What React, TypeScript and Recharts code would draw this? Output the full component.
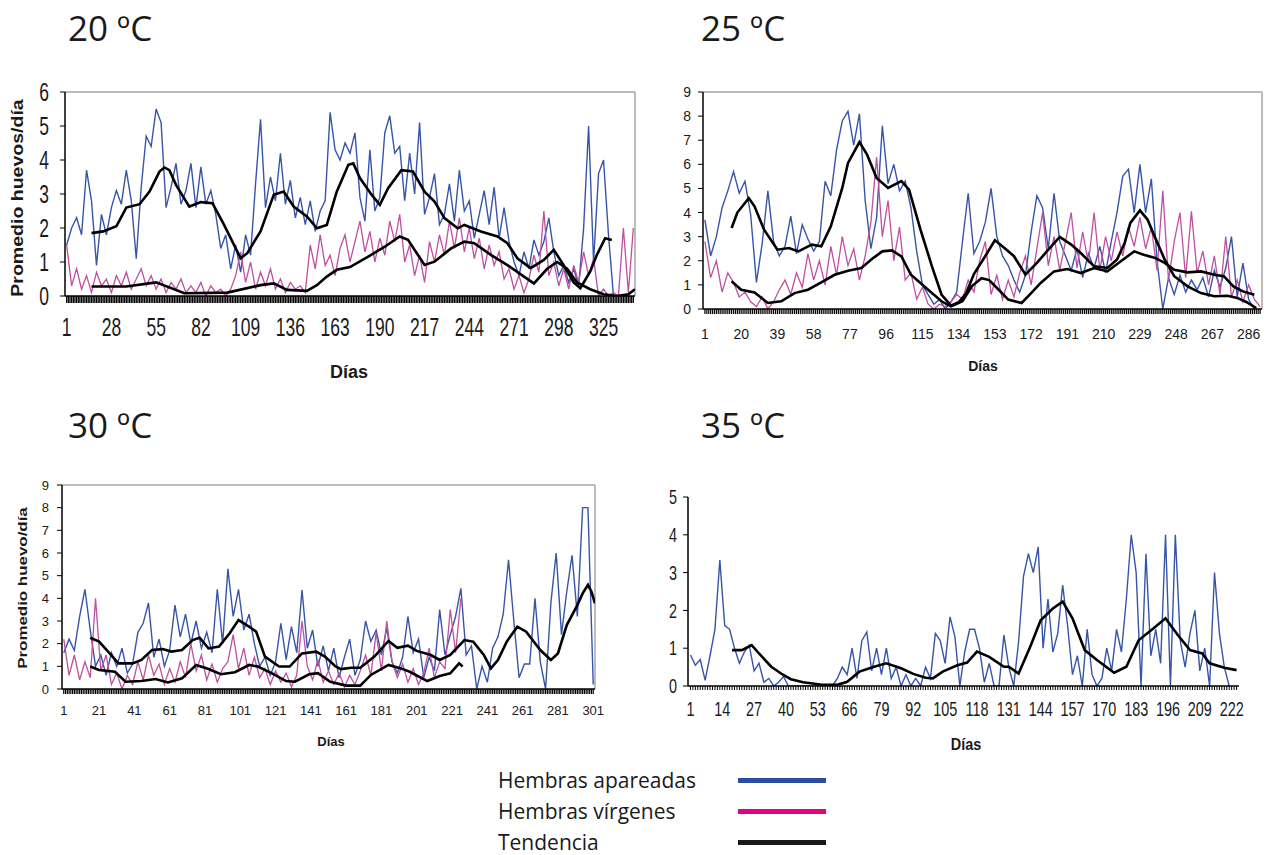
import React from 'react';
import { LineChart, Line, XAxis, YAxis, ReferenceLine } from 'recharts';

const BLUE = '#3755a8';
const PINK = '#bf4fa0';
const TICK_FONT = "'Liberation Sans', Arial, sans-serif";
const TITLE_FONT = "'Open Sans', 'Noto Sans', sans-serif";

// 20 ºC — daily values sampled every 3 days from day 1
const apareadas20 = [
  1.5, 2.0, 2.3, 1.8, 3.7, 2.8, 0.9, 2.4, 1.8, 2.6, 3.1, 2.7, 3.7, 2.8, 1.1, 3.2, 4.7, 4.4, 5.5, 5.1,
  2.6, 3.2, 3.9, 2.7, 3.1, 3.9, 2.6, 3.8, 2.7, 3.1, 2.4, 1.4, 1.8, 0.8, 1.5, 0.7, 1.8, 1.2, 3.3, 5.2,
  2.6, 3.5, 2.8, 4.2, 2.7, 3.4, 2.3, 2.9, 2.1, 2.8, 1.9, 2.5, 2.8, 5.4, 4.3, 4.0, 4.5, 4.2, 4.8, 2.9,
  2.2, 4.3, 2.5, 2.9, 4.8, 5.3, 4.2, 4.4, 2.8, 4.2, 3.0, 5.1, 2.4, 2.9, 3.6, 2.1, 2.4, 3.3, 2.2, 3.7,
  2.5, 2.8, 1.7, 2.4, 3.1, 2.1, 3.2, 1.7, 2.6, 1.6, 1.0, 0.6, 1.3, 0.8, 1.65, 1.2, 1.6, 2.3, 1.3, 0.6,
  0.9, 0.4, 0.8, 0.3, 2.0, 5.0, 1.0, 3.6, 4.0, 1.8, 0,
];
const virgenes20 = [
  1.5, 0.3, 0.8, 0.2, 0.6, 0.1, 0.7, 0.3, 0.5, 0.1, 0.6, 0.3, 0.7, 0.2, 0.5, 0.8, 0.3, 0.6, 0.2, 0.5,
  0.1, 0.4, 0.2, 0.5, 0.1, 0.3, 0.1, 0.4, 0.0, 0.3, 0.1, 0.2, 0.0, 0.2, 0.6, 1.3, 0.4, 1.0, 0.2, 0.7,
  0.3, 0.8, 0.2, 0.5, 0.1, 0.4, 0.2, 0.3, 0.1, 1.5, 0.8, 1.8, 0.9, 1.2, 0.6, 1.4, 1.8, 1.0, 1.6, 2.2,
  1.3, 1.9, 1.0, 1.7, 1.2, 2.2, 1.6, 2.4, 1.0, 1.5, 0.6, 1.2, 0.4, 1.6, 1.0, 1.8, 1.2, 2.2, 1.4, 2.3,
  1.3, 2.0, 1.1, 1.7, 0.8, 1.5, 0.9, 1.3, 0.5, 0.8, 0.2, 0.6, 0.1, 0.5, 1.2, 0.7, 2.5, 0.6, 1.0, 0.3,
  0.8, 0.2, 0.9, 0.4, 1.3, 0.6, 1.1, 0.0, 0.2, 0.0, 0.1, 0.0, 2.0, 0.1, 2.0,
];
const tendApareadas20 = [
  [16, 1.85], [23, 1.9], [31, 2.05], [37, 2.6], [45, 2.7], [51, 3.07], [57, 3.66], [60, 3.78], [63, 3.7],
  [67, 3.27], [75, 2.63], [82, 2.76], [89, 2.73], [96, 2.09], [106, 1.11], [110, 1.26], [118, 1.9],
  [126, 2.98], [132, 3.07], [138, 2.63], [146, 2.34], [152, 1.99], [158, 2.09], [164, 3.07], [171, 3.86],
  [174, 3.9], [178, 3.47], [185, 2.98], [190, 2.68], [195, 3.17], [203, 3.7], [210, 3.66], [217, 3.07],
  [223, 2.78], [229, 2.29], [237, 1.99], [241, 2.09], [251, 1.9], [261, 1.75], [267, 1.55], [273, 1.11],
  [281, 0.82], [289, 1.06], [295, 1.36], [301, 0.9], [307, 0.4], [311, 0.23], [317, 0.72], [321, 1.21],
  [326, 1.7], [330, 1.65],
];
const tendVirgenes20 = [
  [16, 0.28], [37, 0.28], [55, 0.4], [72, 0.08], [98, 0.1], [118, 0.32], [126, 0.37], [134, 0.18],
  [146, 0.15], [152, 0.32], [158, 0.57], [164, 0.77], [172, 0.85], [183, 1.16], [193, 1.45], [202, 1.75],
  [207, 1.65], [217, 0.91], [223, 1.01], [233, 1.4], [241, 1.6], [247, 1.55], [257, 1.21], [267, 0.91],
  [277, 0.57], [283, 0.37], [291, 0.8], [297, 1.0], [303, 0.8], [309, 0.4], [317, 0.2], [325, 0.05],
  [333, 0.0], [340, 0.05], [344, 0.2],
];

// 25 ºC — every 3 days from day 1
const apareadas25 = [
  3.7, 2.2, 3.0, 4.2, 4.9, 5.7, 4.8, 5.3, 3.9, 1.1, 2.7, 4.9, 2.8, 2.2, 2.6, 3.85, 2.3, 3.5, 2.9, 2.4,
  2.8, 5.3, 4.7, 6.6, 7.8, 8.2, 6.8, 8.1, 4.5, 2.5, 3.8, 7.6, 5.2, 6.0, 4.9, 5.3, 4.2, 2.4, 1.0, 0.6,
  0.2, 0.4, 0.0, 0.3, 0.7, 2.8, 4.8, 2.3, 2.8, 3.6, 5.0, 3.0, 2.2, 1.8, 1.2, 0.7, 1.4, 3.2, 4.7, 4.2,
  2.5, 4.8, 2.8, 2.2, 1.6, 2.5, 1.3, 2.3, 1.7, 2.6, 1.5, 2.8, 4.0, 5.5, 5.8, 4.0, 6.0, 4.0, 5.4, 2.0,
  0.0, 1.3, 0.6, 1.4, 0.7, 1.2, 0.8, 1.3, 0.5, 1.6, 0.9, 1.7, 3.0, 0.5, 1.9, 0.4, 0.0,
];
const virgenes25 = [
  2.8, 1.3, 2.0, 0.7, 1.5, 1.1, 0.5, 0.7, 0.3, 0.1, 0.5, 0.0, 0.3, 0.8, 1.2, 0.6, 1.5, 0.9, 2.3, 1.2,
  2.0, 1.0, 2.6, 1.4, 3.0, 1.8, 2.5, 1.2, 2.2, 3.6, 6.3, 3.0, 4.5, 2.0, 3.4, 1.2, 1.5, 0.4, 0.9, 0.2,
  0.0, 0.2, 0.1, 0.3, 0.6, 0.4, 1.2, 0.7, 2.0, 2.8, 0.6, 1.4, 0.4, 1.2, 0.5, 1.5, 2.2, 1.0, 2.5, 4.0,
  1.8, 3.0, 1.6, 2.8, 4.0, 1.7, 3.2, 1.9, 4.0, 1.6, 3.0, 2.0, 3.2, 2.2, 3.4, 2.6, 3.8, 2.5, 3.4, 1.6,
  4.9, 1.2, 2.8, 4.0, 1.3, 4.05, 1.5, 2.4, 1.0, 2.2, 0.6, 3.0, 0.5, 1.2, 0.3, 1.0, 0.4, 0.1,
];
const tendApareadas25 = [
  [15, 3.36], [18, 4.0], [24, 4.6], [27, 4.26], [32, 3.29], [39, 2.46], [45, 2.53], [50, 2.39], [57, 2.67],
  [62, 2.6], [67, 3.43], [73, 5.02], [76, 6.06], [82, 6.92], [86, 6.4], [91, 5.43], [97, 5.02], [104, 5.3],
  [108, 4.95], [114, 3.29], [120, 1.77], [125, 0.6], [130, 0.14], [134, 0.28], [138, 0.66], [142, 1.45],
  [148, 2.2], [153, 2.85], [158, 2.53], [163, 2.19], [169, 1.42], [175, 1.91], [181, 2.46], [187, 2.99],
  [193, 2.67], [198, 2.32], [205, 1.77], [212, 1.7], [217, 2.05], [221, 2.74], [224, 3.57], [229, 4.09],
  [233, 3.71], [237, 2.95], [242, 2.05], [247, 1.36], [254, 0.94], [261, 0.66], [268, 0.53], [275, 0.55],
  [280, 0.46], [285, 0.28], [290, 0.04],
];
const tendVirgenes25 = [
  [15, 1.15], [20, 0.8], [27, 0.69], [34, 0.25], [41, 0.32], [48, 0.66], [55, 0.8], [62, 1.1], [69, 1.42],
  [76, 1.59], [83, 1.7], [89, 2.1], [94, 2.39], [99, 2.43], [104, 2.18], [109, 1.42], [118, 0.8],
  [125, 0.32], [130, 0.11], [136, 0.32], [141, 0.95], [146, 1.28], [150, 1.2], [155, 0.8], [160, 0.39],
  [167, 0.25], [172, 0.66], [177, 1.08], [184, 1.56], [191, 1.66], [198, 1.49], [205, 1.7], [212, 1.56],
  [219, 1.98], [226, 2.39], [231, 2.25], [237, 2.12], [242, 1.91], [247, 1.63], [254, 1.52], [261, 1.56],
  [268, 1.42], [273, 1.36], [278, 0.94], [283, 0.73], [289, 0.59],
];

// 30 ºC — every 3 days from day 1
const apareadas30 = [
  1.6, 2.2, 1.7, 3.2, 4.4, 2.6, 1.0, 1.5, 0.6, 1.6, 1.0, 1.8, 0.7, 1.1, 2.5, 2.9, 3.8, 1.4, 2.2, 1.0,
  1.7, 3.7, 2.3, 3.3, 2.0, 3.0, 1.8, 2.5, 1.6, 4.4, 2.0, 5.3, 3.2, 4.4, 2.6, 3.3, 2.0, 1.0, 1.4, 0.6,
  1.2, 2.9, 1.3, 2.75, 1.6, 4.37, 1.8, 2.6, 1.0, 1.9, 0.8, 1.8, 0.5, 1.4, 2.2, 0.6, 1.3, 3.0, 2.1, 2.6,
  1.5, 2.7, 1.2, 0.7, 1.4, 3.2, 1.6, 2.2, 0.5, 1.4, 0.8, 3.5, 1.5, 2.4, 3.2, 4.44, 1.5, 1.9, 0.0, 1.0,
  0.3, 1.8, 2.3, 3.3, 5.7, 3.0, 0.5, 1.1, 1.1, 4.0, 1.2, 0.0, 3.8, 6.0, 2.4, 4.3, 5.9, 3.2, 8.0, 8.0,
  0.2,
];
const virgenes30 = [
  2.2, 0.6, 1.5, 0.4, 1.2, 0.5, 4.0, 0.8, 1.5, 0.2, 0.7, 0.0, 0.6, 0.2, 1.2, 0.4, 1.5, 0.6, 1.1, 0.2,
  0.9, 0.3, 1.2, 0.5, 2.0, 0.8, 1.5, 0.4, 1.1, 0.3, 0.9, 1.2, 2.4, 0.9, 1.8, 0.6, 1.4, 0.5, 0.9, 0.2,
  0.8, 0.3, 0.7, 0.1, 0.6, 3.0, 1.0, 0.4, 1.3, 0.3, 0.8, 0.2, 0.7, 0.1, 0.6, 0.2, 0.8, 1.5, 0.6, 2.5,
  0.8, 3.0, 1.2, 0.5, 1.1, 0.3, 0.9, 0.2, 0.7, 1.8, 0.5, 1.2, 0.9, 3.5, 1.6, 4.0,
];
const tendApareadas30 = [
  [16, 2.26], [21, 2.09], [27, 1.57], [32, 1.13], [40, 1.13], [45, 1.28], [51, 1.72], [57, 1.76], [62, 1.65],
  [68, 1.72], [74, 2.16], [78, 2.26], [83, 1.79], [89, 1.87], [95, 2.46], [100, 3.04], [106, 2.75],
  [110, 2.53], [115, 1.43], [123, 0.99], [129, 0.99], [136, 1.57], [144, 1.65], [149, 1.43], [155, 1.0],
  [158, 0.88], [164, 0.94], [169, 0.94], [177, 1.43], [185, 2.12], [190, 1.82], [196, 1.91], [201, 1.68],
  [209, 1.5], [214, 1.28], [220, 1.5], [228, 2.16], [233, 2.09], [239, 1.5], [243, 0.91], [247, 1.28],
  [252, 2.09], [258, 2.75], [263, 2.53], [271, 1.72], [277, 1.28], [281, 1.57], [286, 2.82], [292, 3.7],
  [295, 4.22], [298, 4.59], [300, 4.29], [302, 3.78],
];
const tendVirgenes30 = [
  [16, 0.99], [21, 0.84], [30, 0.76], [36, 0.32], [45, 0.35], [53, 0.44], [60, 0.29], [68, 0.47], [76, 1.06],
  [83, 0.88], [90, 0.65], [98, 0.74], [106, 1.06], [111, 0.99], [119, 0.69], [127, 0.35], [132, 0.32],
  [140, 0.65], [145, 0.7], [152, 0.32], [161, 0.15], [169, 0.15], [175, 0.62], [185, 1.06], [192, 0.91],
  [197, 0.76], [207, 0.35], [214, 0.57], [220, 0.69], [225, 1.13], [227, 0.99],
];

// 35 ºC — every 2 days from day 1
const apareadas35 = [
  0.82, 0.55, 0.7, 0.15, 0.8, 1.5, 3.33, 1.6, 1.5, 1.0, 0.6, 0.9, 1.08, 0.4, 0.6, 0.1, 0.2, 0.0, 0.1, 0.25,
  0.0, 0, 0, 0, 0, 0, 0, 0, 0, 0, 0.2, 0.5, 0.3, 1.0, 0.2, 1.2, 1.43, 0.4, 1.0, 0.3,
  1.0, 0.2, 0.5, 0.0, 0.3, 0.0, 0.2, 0.0, 0.5, 0.2, 1.39, 1.2, 0.6, 1.83, 1.3, 0.0, 0.9, 1.5, 1.5, 1.0,
  0.1, 0.6, 0.0, 0.0, 1.35, 0.5, 0.0, 1.17, 2.9, 3.5, 3.0, 3.68, 1.0, 2.3, 0.9, 1.4, 2.67, 1.6, 0.3, 0.8,
  0.0, 1.5, 0.3, 0.0, 0.2, 1.0, 0.4, 1.5, 0.9, 2.3, 4.0, 3.0, 0.0, 3.5, 0.8, 1.5, 0.6, 4.0, 0.0, 4.0,
  1.2, 0.5, 1.4, 2.0, 0.4, 1.0, 0.0, 3.0, 1.4, 0.5, 0.0,
];
const tendApareadas35 = [
  [18, 0.95], [22, 0.95], [26, 1.08], [29, 0.86], [34, 0.51], [38, 0.33], [42, 0.18], [47, 0.1], [54, 0.04],
  [61, 0.03], [65, 0.11], [70, 0.38], [76, 0.51], [81, 0.6], [87, 0.47], [92, 0.32], [97, 0.22], [100, 0.2],
  [104, 0.38], [110, 0.55], [114, 0.62], [118, 0.91], [123, 0.77], [129, 0.51], [131, 0.51], [135, 0.33],
  [140, 1.08], [144, 1.74], [149, 2.05], [153, 2.23], [157, 1.79], [162, 0.95], [167, 0.69], [174, 0.35],
  [179, 0.51], [184, 1.21], [190, 1.52], [195, 1.79], [200, 1.35], [205, 0.95], [210, 0.86], [213, 0.6],
  [219, 0.48], [224, 0.42],
];

const labels20 = [1, 28, 55, 82, 109, 136, 163, 190, 217, 244, 271, 298, 325];
const labels25 = [1, 20, 39, 58, 77, 96, 115, 134, 153, 172, 191, 210, 229, 248, 267, 286];
const labels30 = [1, 21, 41, 61, 81, 101, 121, 141, 161, 181, 201, 221, 241, 261, 281, 301];
const labels35 = [1, 14, 27, 40, 53, 66, 79, 92, 105, 118, 131, 144, 157, 170, 183, 196, 209, 222];

const toSeries = (vals: number[], step: number) => vals.map((v, i) => ({ d: 1 + i * step, v }));
const toTrend = (pts: number[][]) => pts.map(([d, v]) => ({ d, v }));

interface PanelProps {
  left: number;
  top: number;
  width: number;
  height: number;
  margin: { top: number; right: number; bottom: number; left: number };
  yWidth: number;
  xHeight: number;
  maxDay: number;
  yMax: number;
  labels: number[];
  fontSize: number;
  squeeze: number; // horizontal scale of tick digits
  xTickSize: number;
  xTickMargin: number;
  yTickMargin: number;
  tickStroke: number;
  border: boolean;
  blue: { d: number; v: number }[];
  pink?: { d: number; v: number }[];
  trends: { d: number; v: number }[][];
}

function Panel(p: PanelProps) {
  const dayTicks = Array.from({ length: p.maxDay - 1 }, (_, i) => i + 1);
  const yTicks = Array.from({ length: p.yMax + 1 }, (_, i) => i);
  const label = (x: number, y: number, value: number, anchor: 'middle' | 'end', dy: string) => (
    <text
      transform={`translate(${x},${y}) scale(${p.squeeze},1)`}
      dy={dy}
      textAnchor={anchor}
      fontSize={p.fontSize}
      fontFamily={TICK_FONT}
      fill="#1a1a1a"
    >
      {value}
    </text>
  );
  const renderX = (props: any) => {
    const { x, y, payload } = props;
    if (!p.labels.includes(payload.value)) return <g />;
    return label(x, y, payload.value, 'middle', '0.72em');
  };
  const renderY = (props: any) => {
    const { x, y, payload } = props;
    return label(x, y, payload.value, 'end', '0.36em');
  };
  return (
    <div style={{ position: 'absolute', left: p.left, top: p.top }}>
      <LineChart width={p.width} height={p.height} margin={p.margin}>
        <XAxis
          type="number"
          dataKey="d"
          domain={[0, p.maxDay]}
          ticks={dayTicks}
          interval={0}
          tick={renderX}
          tickSize={p.xTickSize}
          tickMargin={p.xTickMargin}
          height={p.xHeight}
          axisLine={{ stroke: '#000', strokeWidth: 1.5 }}
          tickLine={{ stroke: '#000', strokeWidth: p.tickStroke }}
          allowDataOverflow
        />
        <YAxis
          type="number"
          domain={[0, p.yMax]}
          ticks={yTicks}
          interval={0}
          width={p.yWidth}
          tickSize={5}
          tickMargin={p.yTickMargin}
          tick={renderY}
          axisLine={{ stroke: '#000', strokeWidth: 1.5 }}
          tickLine={{ stroke: '#000' }}
          allowDataOverflow
        />
        {p.border && <ReferenceLine y={p.yMax} stroke="#a6a6a6" strokeWidth={1.5} />}
        {p.border && <ReferenceLine x={p.maxDay} stroke="#a6a6a6" strokeWidth={1.5} />}
        <Line data={p.blue} dataKey="v" stroke={BLUE} strokeWidth={1.4} dot={false} activeDot={false} isAnimationActive={false} />
        {p.pink && (
          <Line data={p.pink} dataKey="v" stroke={PINK} strokeWidth={1.3} dot={false} activeDot={false} isAnimationActive={false} />
        )}
        {p.trends.map((t, i) => (
          <Line key={i} data={t} dataKey="v" stroke="#000" strokeWidth={2.6} dot={false} activeDot={false} isAnimationActive={false} />
        ))}
      </LineChart>
    </div>
  );
}

const abs = (left: number, top: number, extra: React.CSSProperties = {}): React.CSSProperties => ({
  position: 'absolute',
  left,
  top,
  whiteSpace: 'nowrap',
  ...extra,
});

function Title({ left, top, text }: { left: number; top: number; text: string }) {
  return <div style={abs(left, top, { fontFamily: TITLE_FONT, fontSize: 35, lineHeight: '40px', color: '#1a1a1a' })}>{text}</div>;
}

function AxisName({ x, y, size, text, rotate, stretch = 1 }: { x: number; y: number; size: number; text: string; rotate?: boolean; stretch?: number }) {
  return (
    <div
      style={abs(x, y, {
        fontFamily: TICK_FONT,
        fontWeight: 'bold',
        fontSize: size,
        lineHeight: 1,
        color: '#1a1a1a',
        transform: `translate(-50%, -50%)${rotate ? ' rotate(-90deg)' : ''} scaleX(${stretch})`,
      })}
    >
      {text}
    </div>
  );
}

const legendItems = [
  { name: 'Hembras apareadas', color: '#2c4c9e' },
  { name: 'Hembras vírgenes', color: '#e5007e' },
  { name: 'Tendencia', color: '#1a1a1a' },
];

export default function App() {
  return (
    <div style={{ position: 'absolute', left: 0, top: 0, width: 1267, height: 855, background: '#fff' }}>
      <Title left={68} top={8} text="20 ºC" />
      <Title left={701} top={8} text="25 ºC" />
      <Title left={68} top={405} text="30 ºC" />
      <Title left={701} top={405} text="35 ºC" />

      <Panel
        left={0} top={66} width={650} height={314}
        margin={{ top: 26, right: 15, bottom: 40, left: 24 }}
        yWidth={41} xHeight={44} maxDay={344} yMax={6} labels={labels20}
        fontSize={25} squeeze={0.7} xTickSize={7} xTickMargin={15} yTickMargin={11} tickStroke={1.3}
        border
        blue={toSeries(apareadas20, 3)} pink={toSeries(virgenes20, 3)}
        trends={[toTrend(tendApareadas20), toTrend(tendVirgenes20)]}
      />
      <Panel
        left={660} top={70} width={607} height={310}
        margin={{ top: 22, right: 5, bottom: 31, left: 18 }}
        yWidth={25} xHeight={40} maxDay={293} yMax={9} labels={labels25}
        fontSize={14} squeeze={1} xTickSize={5} xTickMargin={15} yTickMargin={7} tickStroke={1.2}
        border
        blue={toSeries(apareadas25, 3)} pink={toSeries(virgenes25, 3)}
        trends={[toTrend(tendApareadas25), toTrend(tendVirgenes25)]}
      />
      <Panel
        left={0} top={465} width={610} height={285}
        margin={{ top: 20, right: 15, bottom: 31, left: 32 }}
        yWidth={30} xHeight={30} maxDay={302} yMax={9} labels={labels30}
        fontSize={13} squeeze={1} xTickSize={5} xTickMargin={12} yTickMargin={8} tickStroke={1.2}
        border
        blue={toSeries(apareadas30, 3)} pink={toSeries(virgenes30, 3)}
        trends={[toTrend(tendApareadas30), toTrend(tendVirgenes30)]}
      />
      <Panel
        left={650} top={475} width={600} height={285}
        margin={{ top: 22, right: 11, bottom: 44, left: 13 }}
        yWidth={25} xHeight={30} maxDay={225} yMax={5} labels={labels35}
        fontSize={20} squeeze={0.72} xTickSize={4} xTickMargin={12} yTickMargin={6} tickStroke={1}
        border={false}
        blue={toSeries(apareadas35, 2)}
        trends={[toTrend(tendApareadas35)]}
      />

      <AxisName x={18} y={198} size={16} stretch={1.22} text="Promedio huevos/día" rotate />
      <AxisName x={22} y={588} size={13} stretch={1.3} text="Promedio huevo/día" rotate />
      <AxisName x={349} y={372} size={18} text="Días" />
      <AxisName x={983} y={366} size={14} text="Días" />
      <AxisName x={331} y={741} size={13} text="Días" />
      <AxisName x={966} y={744} size={17} stretch={0.85} text="Días" />

      {legendItems.map((it, i) => (
        <div key={it.name} style={abs(498, 769 + i * 31, { display: 'flex', alignItems: 'center', height: 22 })}>
          <span style={{ fontFamily: TITLE_FONT, fontSize: 21, lineHeight: '22px', color: '#1a1a1a', width: 240 }}>{it.name}</span>
          <span style={{ display: 'inline-block', width: 88, height: 5, background: it.color }} />
        </div>
      ))}
    </div>
  );
}
